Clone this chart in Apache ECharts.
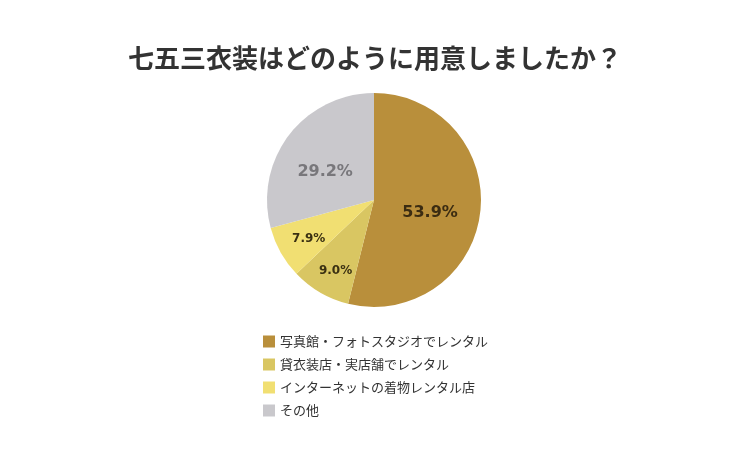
<!DOCTYPE html>
<html>
<head>
<meta charset="utf-8">
<script src="https://cdn.jsdelivr.net/npm/echarts@6/dist/echarts.min.js"></script>
<style>
html, body { margin: 0; padding: 0; background: #fff; }
#chart { width: 750px; height: 450px; }
</style>
</head>
<body>
<div id="chart"></div>
<script>
// 用意方法の内訳
var categories = ['写真館・フォトスタジオでレンタル', '貸衣装店・実店舗でレンタル', 'インターネットの着物レンタル店', 'その他'];
var values = [53.9, 9.0, 7.9, 29.2];
var colors = ['#B98F3B', '#D9C662', '#F1DF72', '#C9C8CC'];
var labelColors = ['#3b2c12', '#3a3012', '#3a3012', '#78777b'];
var labelSizes = [16, 12, 12, 16];
// ラベル位置の微調整
var labelOffsets = [[0, 6], [-10, 22], [-16, 11], [-4, 6]];

var font = '"Noto Sans CJK JP", "Noto Sans", sans-serif';

var seriesData = [];
for (var i = 0; i < categories.length; i++) {
	seriesData.push({
		name : categories[i],
		value : values[i],
		itemStyle : { color : colors[i] },
		label : {
			color : labelColors[i],
			fontSize : labelSizes[i],
			offset : labelOffsets[i]
		}
	});
}

var myChart = echarts.init(document.getElementById('chart'));
myChart.setOption({
	animation : false,
	title : {
		text : '七五三衣装はどのように用意しましたか？',
		left : 'center',
		top : 40,
		textStyle : {
			fontFamily : font,
			fontSize : 26,
			fontWeight : 'bold',
			color : '#333'
		}
	},
	legend : {
		orient : 'vertical',
		left : 258,
		top : 330,
		icon : 'rect',
		itemWidth : 12,
		itemHeight : 12,
		itemGap : 10,
		textStyle : {
			fontFamily : font,
			fontSize : 13,
			color : '#333'
		},
		data : categories
	},
	series : [ {
		type : 'pie',
		center : [ 374, 200 ],
		radius : [ 0, 107 ],
		startAngle : 90,
		clockwise : true,
		silent : true,
		label : {
			show : true,
			position : 'inside',
			fontFamily : '"DejaVu Sans", Verdana, sans-serif',
			fontWeight : 'bold',
			formatter : function(p) {
				return p.value.toFixed(1) + '%';
			}
		},
		labelLine : { show : false },
		itemStyle : { borderWidth : 0 },
		data : seriesData
	} ]
});
</script>
</body>
</html>
